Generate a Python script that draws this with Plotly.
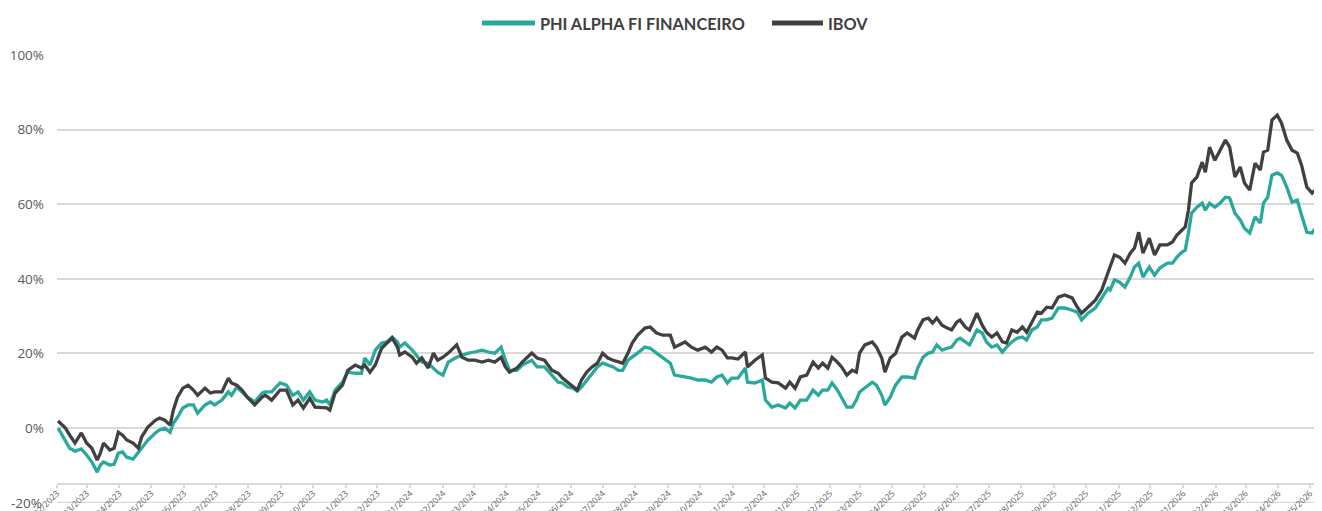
import plotly.graph_objects as go

dates = [
    "2023-02-02", "2023-02-09", "2023-02-13", "2023-02-18", "2023-02-24", "2023-03-01", "2023-03-06", "2023-03-11",
    "2023-03-14", "2023-03-17", "2023-03-23", "2023-03-27", "2023-03-31", "2023-04-04", "2023-04-08", "2023-04-14",
    "2023-04-19", "2023-04-22", "2023-04-28", "2023-05-05", "2023-05-09", "2023-05-14", "2023-05-19", "2023-05-22",
    "2023-05-26", "2023-05-31", "2023-06-05", "2023-06-10", "2023-06-14", "2023-06-21", "2023-06-26", "2023-06-30",
    "2023-07-07", "2023-07-13", "2023-07-16", "2023-07-21", "2023-07-26", "2023-07-31", "2023-08-07", "2023-08-14",
    "2023-08-17", "2023-08-23", "2023-08-31", "2023-09-06", "2023-09-12", "2023-09-17", "2023-09-22", "2023-09-28",
    "2023-10-03", "2023-10-10", "2023-10-14", "2023-10-17", "2023-10-22", "2023-10-29", "2023-11-03", "2023-11-10",
    "2023-11-16", "2023-11-19", "2023-11-24", "2023-11-29", "2023-12-05", "2023-12-10", "2023-12-15", "2023-12-20",
    "2023-12-22", "2023-12-27", "2024-01-03", "2024-01-07", "2024-01-12", "2024-01-18", "2024-01-23", "2024-01-27",
    "2024-02-01", "2024-02-06", "2024-02-14", "2024-02-19", "2024-02-25", "2024-03-02", "2024-03-09", "2024-03-15",
    "2024-03-21", "2024-03-27", "2024-03-31", "2024-04-04", "2024-04-11", "2024-04-16", "2024-04-20", "2024-04-25",
    "2024-04-30", "2024-05-07", "2024-05-14", "2024-05-20", "2024-05-24", "2024-05-29", "2024-06-03", "2024-06-07",
    "2024-06-11", "2024-06-16", "2024-06-21", "2024-06-26", "2024-07-01", "2024-07-06", "2024-07-11", "2024-07-16",
    "2024-07-20", "2024-07-25", "2024-07-29", "2024-08-03", "2024-08-10", "2024-08-15", "2024-08-21", "2024-08-27",
    "2024-09-03", "2024-09-07", "2024-09-14", "2024-09-17", "2024-09-23", "2024-09-29", "2024-10-06", "2024-10-12",
    "2024-10-17", "2024-10-22", "2024-10-27", "2024-10-31", "2024-11-06", "2024-11-13", "2024-11-15", "2024-11-22",
    "2024-11-29", "2024-12-02", "2024-12-08", "2024-12-14", "2024-12-21", "2024-12-25", "2024-12-30", "2025-01-04",
    "2025-01-10", "2025-01-16", "2025-01-21", "2025-01-25", "2025-01-30", "2025-02-03", "2025-02-08", "2025-02-12",
    "2025-02-17", "2025-02-22", "2025-02-26", "2025-03-01", "2025-03-06", "2025-03-13", "2025-03-17", "2025-03-22",
    "2025-03-25", "2025-03-30", "2025-04-04", "2025-04-10", "2025-04-15", "2025-04-22", "2025-04-25", "2025-04-30",
    "2025-05-05", "2025-05-09", "2025-05-13", "2025-05-18", "2025-05-23", "2025-05-27", "2025-06-01", "2025-06-04",
    "2025-06-09", "2025-06-13", "2025-06-20", "2025-06-25", "2025-06-29", "2025-07-04", "2025-07-09", "2025-07-14",
    "2025-07-18", "2025-07-23", "2025-07-28", "2025-08-02", "2025-08-06", "2025-08-11", "2025-08-16", "2025-08-20",
    "2025-08-25", "2025-08-30", "2025-09-05", "2025-09-11", "2025-09-18", "2025-09-23", "2025-09-27", "2025-10-03",
    "2025-10-10", "2025-10-16", "2025-10-22", "2025-10-24", "2025-10-28", "2025-11-02", "2025-11-07", "2025-11-12",
    "2025-11-16", "2025-11-20", "2025-11-24", "2025-11-30", "2025-12-05", "2025-12-10", "2025-12-17", "2025-12-22",
    "2025-12-26", "2025-12-31", "2026-01-03", "2026-01-06", "2026-01-09", "2026-01-14", "2026-01-19", "2026-01-22",
    "2026-01-26", "2026-01-31", "2026-02-05", "2026-02-10", "2026-02-14", "2026-02-19", "2026-02-24", "2026-02-28",
    "2026-03-05", "2026-03-10", "2026-03-15", "2026-03-18", "2026-03-22", "2026-03-26", "2026-03-31", "2026-04-04",
    "2026-04-09", "2026-04-14", "2026-04-19", "2026-04-23", "2026-04-28", "2026-05-03", "2026-05-08", "2026-05-12",
]

phi_alpha = [
    0.0, -3.2, -5.4, -6.2, -5.6, -7.2, -9.1, -11.8, -9.9, -9.1, -9.9, -9.7, -6.7, -6.4, -7.8, -8.3,
    -6.4, -5.4, -3.2, -1.3, -0.5, 0.0, -1.1, 1.3, 2.9, 5.4, 6.2, 6.2, 4.0, 6.2, 7.0, 6.2,
    7.5, 9.7, 8.8, 11.0, 9.7, 8.3, 7.0, 9.4, 9.7, 9.7, 12.1, 11.5, 8.8, 9.7, 7.5, 9.7,
    7.5, 7.0, 7.5, 6.2, 10.2, 12.3, 15.0, 14.7, 14.7, 18.8, 16.9, 20.9, 22.8, 23.1, 24.4, 23.1,
    21.7, 22.8, 20.9, 19.6, 17.7, 17.4, 16.1, 15.0, 14.2, 17.7, 19.0, 19.6, 20.1, 20.4, 20.9, 20.4,
    20.1, 21.7, 18.2, 15.5, 15.5, 16.9, 17.4, 18.2, 16.4, 16.4, 14.2, 12.3, 12.1, 11.0, 10.7, 9.9,
    11.0, 12.9, 14.7, 16.4, 17.4, 16.9, 16.4, 15.5, 15.5, 18.2, 19.0, 20.1, 21.7, 21.4, 20.1, 18.8,
    17.4, 14.2, 13.7, 13.7, 13.4, 12.9, 12.9, 12.3, 13.7, 14.2, 12.1, 13.4, 13.4, 16.1, 12.3, 12.1,
    12.9, 7.5, 5.6, 6.2, 5.4, 6.7, 5.4, 7.5, 7.5, 10.2, 8.8, 10.2, 10.2, 12.1, 10.2, 8.0,
    5.6, 5.6, 7.5, 9.7, 10.7, 12.3, 11.5, 8.8, 6.2, 8.3, 11.5, 13.7, 13.7, 13.4, 16.1, 19.0,
    20.1, 20.4, 22.3, 20.9, 21.4, 21.7, 23.6, 24.1, 23.1, 22.3, 26.3, 25.5, 23.1, 21.7, 22.3, 20.4,
    21.7, 23.1, 24.1, 24.4, 23.6, 26.3, 27.1, 29.0, 29.0, 29.5, 32.2, 32.2, 31.6, 31.1, 29.0, 30.8,
    32.2, 34.9, 37.5, 37.0, 39.7, 39.1, 37.8, 40.5, 43.2, 44.2, 40.5, 43.2, 41.0, 42.9, 44.2, 44.2,
    45.8, 47.2, 47.7, 52.3, 57.6, 59.2, 60.3, 58.4, 60.3, 59.2, 60.3, 61.9, 61.7, 57.6, 55.8, 53.6,
    52.3, 56.6, 55.0, 60.3, 61.9, 67.8, 68.4, 67.8, 64.6, 60.6, 61.1, 57.1, 52.5, 52.3, 54.4, 55.2,
]

ibov = [
    1.9, 0.0, -1.9, -4.0, -1.3, -4.0, -5.4, -8.6, -6.7, -4.0, -5.9, -5.4, -1.1, -1.9, -3.2, -4.0,
    -5.4, -2.4, 0.3, 2.1, 2.7, 2.1, 0.8, 4.8, 8.3, 10.7, 11.5, 10.2, 8.8, 10.7, 9.4, 9.7,
    9.7, 13.4, 12.1, 11.5, 10.2, 8.3, 6.2, 8.3, 8.8, 7.5, 10.2, 10.2, 6.2, 7.5, 5.4, 8.0,
    5.6, 5.4, 5.4, 4.8, 9.4, 11.5, 15.5, 16.9, 16.1, 16.9, 15.0, 16.9, 21.4, 22.8, 24.1, 21.7,
    19.6, 20.4, 19.0, 17.4, 18.8, 16.1, 20.1, 18.2, 19.0, 20.1, 22.3, 19.0, 18.2, 18.2, 17.7, 18.2,
    17.7, 19.0, 16.4, 15.0, 16.1, 17.7, 18.8, 20.1, 18.8, 18.2, 15.5, 14.7, 13.4, 12.3, 11.0, 10.2,
    12.9, 15.0, 16.4, 17.4, 20.1, 18.8, 18.2, 17.7, 17.4, 20.1, 22.8, 24.9, 26.8, 27.1, 25.5, 24.9,
    24.9, 21.7, 22.8, 23.1, 21.7, 20.9, 21.7, 20.4, 21.7, 20.9, 18.8, 18.8, 18.5, 20.4, 16.4, 18.2,
    19.6, 13.4, 12.3, 12.1, 10.7, 12.3, 10.7, 13.7, 14.2, 17.7, 16.1, 17.4, 16.1, 19.0, 17.7, 16.4,
    14.2, 15.5, 15.0, 20.1, 22.3, 23.1, 21.7, 18.8, 15.0, 18.8, 20.0, 24.4, 25.5, 24.1, 26.3, 29.0,
    29.5, 28.2, 29.5, 27.6, 26.8, 26.3, 28.4, 29.0, 27.1, 26.3, 30.8, 27.6, 25.7, 24.4, 25.5, 23.1,
    22.8, 26.3, 25.7, 27.1, 25.7, 28.4, 31.1, 30.8, 32.4, 32.2, 35.1, 35.7, 34.9, 32.4, 30.8, 32.4,
    34.3, 37.0, 41.8, 43.2, 46.4, 45.8, 44.2, 46.9, 48.3, 52.5, 46.9, 50.9, 46.4, 49.1, 49.1, 49.9,
    51.7, 53.1, 53.9, 58.4, 65.7, 67.3, 71.3, 68.6, 75.3, 71.8, 74.5, 77.2, 75.3, 67.3, 70.0, 65.7,
    63.8, 71.0, 69.2, 74.0, 74.5, 82.6, 83.9, 81.8, 77.2, 74.5, 73.7, 70.5, 64.6, 63.0, 64.3, 64.3,
]

series_names = ["PHI ALPHA FI FINANCEIRO", "IBOV"]
y_ticks = [-20, 0, 20, 40, 60, 80, 100]
y_tick_text = [f"{v}%" for v in y_ticks]

TEAL = "#29a99b"
DARK = "#404040"
GRID = "#d9d9d9"
LABEL = "#595959"
colors = [TEAL, DARK]

fig = go.Figure()
for name, vals, col in zip(series_names, [phi_alpha, ibov], colors):
    fig.add_trace(go.Scatter(x=dates, y=vals, mode="lines", name=name,
                             line=dict(color=col, width=3.3), showlegend=False))

# The page body has an 8px default margin, so the figure is 8px smaller
# and its margins are reduced accordingly.
BODY = 8
W, H = 1322 - BODY, 511 - BODY
ml, mr, mt, mb = 57 - BODY, 0, 55 - BODY, 8
plot_w = W - ml - mr
plot_h = H - mt - mb


def px_x(p):  # page pixel -> paper fraction
    return (p - BODY - ml) / plot_w


def px_y(p):
    return (H - mb - (p - BODY)) / plot_h


# custom legend (sample line + label) above the plot
legend_y = px_y(23)
legend_layout = [(482, 535, 538), (772, 823, 826)]
shapes = []
annotations = []
for name, col, (lx0, lx1, tx) in zip(series_names, colors, legend_layout):
    shapes.append(dict(type="line", xref="paper", yref="paper",
                       x0=px_x(lx0), x1=px_x(lx1), y0=legend_y, y1=legend_y,
                       line=dict(color=col, width=5)))
    annotations.append(dict(xref="paper", yref="paper", x=px_x(tx), y=legend_y,
                            xanchor="left", yanchor="middle", showarrow=False,
                            text=name,
                            font=dict(family="Lato", size=16.3, color=DARK, weight="bold")))

# lowest y tick label (plotly drops it at the bottom edge), drawn as an annotation
annotations.append(dict(xref="paper", yref="y", x=px_x(44), y=y_ticks[0],
                        xanchor="right", yanchor="middle", showarrow=False,
                        text=y_tick_text[0],
                        font=dict(family="Open Sans", size=13.5, color=LABEL)))
# bottom gridline at the lowest tick
shapes.append(dict(type="line", xref="paper", yref="y", x0=0, x1=1, y0=y_ticks[0], y1=y_ticks[0],
                   line=dict(color=GRID, width=2), layer="below"))

fig.update_layout(
    width=W, height=H,
    margin=dict(l=ml, r=mr, t=mt, b=mb, autoexpand=False),
    paper_bgcolor="white", plot_bgcolor="white",
    showlegend=False,
    shapes=shapes,
    annotations=annotations,
    xaxis=dict(
        type="date",
        range=["2023-02-01", "2026-05-12 08:00"],
        anchor="free", position=px_y(484),
        showgrid=False, zeroline=False,
        showline=True, linecolor=GRID, linewidth=2,
        ticks="outside", ticklen=3, tickwidth=2, tickcolor=GRID,
        tick0="2023-02-01", dtick="M1", tickformat="%m/%Y", tickangle=-45,
        ticklabelstandoff=-3,
        tickfont=dict(family="Open Sans", size=8.5, color=LABEL),
        automargin=False,
    ),
    yaxis=dict(
        range=[-20.08, 100.02], tickmode="array", tickvals=y_ticks, ticktext=y_tick_text,
        showgrid=True, gridcolor=GRID, gridwidth=2,
        zeroline=False, showline=False, ticks="",
        ticklabelstandoff=12,
        tickfont=dict(family="Open Sans", size=13.5, color=LABEL),
        automargin=False,
    ),
)

fig.write_html("out.html")
